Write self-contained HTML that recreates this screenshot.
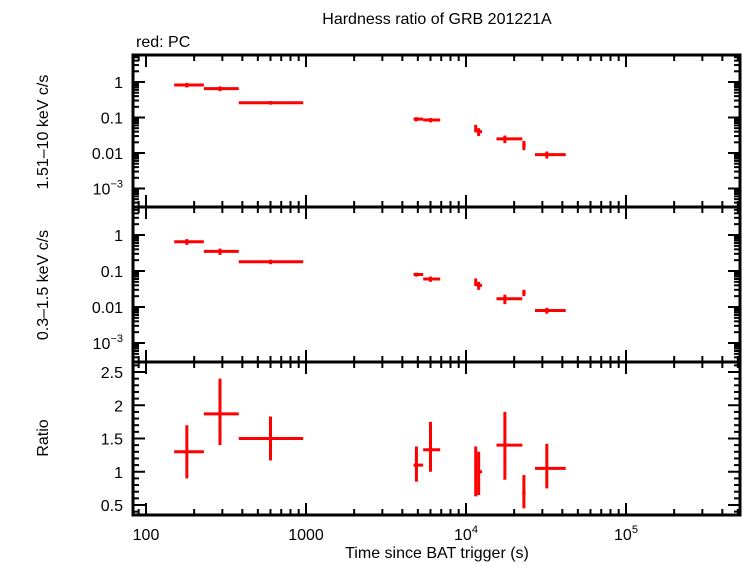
<!DOCTYPE html>
<html><head><meta charset="utf-8"><style>
html,body{margin:0;padding:0;background:#fff;}
svg text{font-family:"Liberation Sans",sans-serif;fill:#000;}
</style></head><body>
<svg id="chart" width="742" height="566" xmlns="http://www.w3.org/2000/svg">
<text x="437" y="24" font-size="16" text-anchor="middle">Hardness ratio of GRB 201221A</text>
<text x="136" y="47" font-size="16">red: PC</text>
<g id="panels"></g>
<text x="437" y="558" font-size="16" text-anchor="middle">Time since BAT trigger (s)</text>
</svg>
<script>
// Data
const times   = [180, 290, 600, 4900, 6000, 11500, 12000, 17500, 23000, 32000];
const tLo     = [150, 230, 380, 4700, 5400, 11300, 11700, 15500, 22500, 27000];
const tHi     = [230, 380, 960, 5400, 6900, 11700, 12600, 22500, 23600, 42000];
const hardRate = [0.82, 0.65, 0.26, 0.09, 0.085, 0.05, 0.04, 0.025, 0.017, 0.009];
const hardErr  = [0.12, 0.10, 0.03, 0.012, 0.012, 0.012, 0.01, 0.006, 0.005, 0.002];
const softRate = [0.65, 0.35, 0.18, 0.08, 0.06, 0.05, 0.04, 0.017, 0.025, 0.008];
const softErr  = [0.12, 0.07, 0.025, 0.01, 0.01, 0.012, 0.01, 0.005, 0.005, 0.0015];
const ratio    = [1.3, 1.87, 1.5, 1.1, 1.33, 1.0, 1.0, 1.4, 0.68, 1.05];
const ratioLo  = [0.9, 1.4, 1.17, 0.85, 1.0, 0.63, 0.65, 0.88, 0.45, 0.75];
const ratioHi  = [1.7, 2.4, 1.83, 1.38, 1.75, 1.38, 1.3, 1.9, 0.95, 1.42];
const xTickLabels = ["100", "1000", "10^4", "10^5"];
const logTickLabels = ["1", "0.1", "0.01", "10^-3"];
const ratioTicks = [0.5, 1, 1.5, 2, 2.5];

const NS = "http://www.w3.org/2000/svg";
const g = document.getElementById("panels");
const L = 133, R = 740;
const xS = t => 146 + (Math.log10(t) - 2) * 160;
function el(tag, a, parent) { const e = document.createElementNS(NS, tag); for (const k in a) e.setAttribute(k, a[k]); (parent || g).appendChild(e); return e; }
function line(x1, y1, x2, y2, c, w, name) {
  const e = el("line", {x1, y1, x2, y2, stroke: c, "stroke-width": w});
  
  
  return e;
}
function supText(x, y, s, anchor, name) {
  const t = el("text", {x, y, "font-size": 16, "text-anchor": anchor});
  
  
  if (s.indexOf("^") >= 0) {
    const [b, e] = s.split("^");
    const t1 = document.createElementNS(NS, "tspan"); t1.textContent = b; t.appendChild(t1);
    const t2 = document.createElementNS(NS, "tspan"); t2.setAttribute("font-size", "11"); t2.setAttribute("dy", "-7");
    t2.textContent = e.replace("-", "\u2212"); t.appendChild(t2);
  } else t.textContent = s;
  return t;
}
const panels = [
  {top: 55, bot: 207, y1: 82, dec: 35.5, vals: hardRate, err: hardErr, name: "hard"},
  {top: 207, bot: 362, y1: 235, dec: 36, vals: softRate, err: softErr, name: "soft"},
  {top: 362, bot: 515, name: "ratio"}
];
panels.forEach((p, pi) => {
  let yS;
  if (p.name === "ratio") yS = v => 372 + (2.5 - v) * 66.5;
  else yS = v => p.y1 - Math.log10(v) * p.dec;
  // x ticks
  for (let d = 1; d <= 5; d++) for (let m = 1; m <= 9; m++) {
    const t = Math.pow(10, d) * m, x = xS(t);
    if (x < L || x > R) continue;
    const len = m === 1 ? 12 : 6;
    line(x, p.bot, x, p.bot - len, "#000", 2, "x-tick");
    line(x, p.top, x, p.top + len, "#000", 2, "x-tick");
  }
  // y ticks
  if (p.name === "ratio") {
    for (let v = 0.4; v <= 2.61; v += 0.1) {
      const y = yS(v); if (y < p.top || y > p.bot) continue;
      const maj = Math.abs(v * 2 - Math.round(v * 2)) < 1e-6;
      line(L, y, L + (maj ? 12 : 6), y, "#000", 2, "y-tick");
      line(R, y, R - (maj ? 12 : 6), y, "#000", 2, "y-tick");
    }
    ratioTicks.forEach(v => supText(L - 10, yS(v) + 6, String(v), "end", "y-tick-label"));
  } else {
    for (let d = -4; d <= 0; d++) for (let m = 1; m <= 9; m++) {
      const v = Math.pow(10, d) * m, y = yS(v);
      if (y < p.top + 1 || y > p.bot - 1) continue;
      const len = m === 1 ? 12 : 6;
      line(L, y, L + len, y, "#000", 2, "y-tick");
      line(R, y, R - len, y, "#000", 2, "y-tick");
    }
    [1, 0.1, 0.01, 0.001].forEach((v, i) => supText(L - 10, yS(v) + 6, logTickLabels[i], "end", "y-tick-label"));
  }
  // frame
  const f = el("rect", {x: L, y: p.top, width: R - L, height: p.bot - p.top, fill: "none", stroke: "#000", "stroke-width": 3});
  
  
  // data
  times.forEach((t, i) => {
    let v, lo, hi;
    if (p.name === "ratio") { v = ratio[i]; lo = ratioLo[i]; hi = ratioHi[i]; }
    else { v = p.vals[i]; lo = v - p.err[i]; hi = v + p.err[i]; }
    const x = xS(t), y = yS(v);
    line(xS(tLo[i]), y, xS(tHi[i]), y, "#f00", 3, p.name + "-xerr-" + i);
    line(x, yS(lo), x, yS(hi), "#f00", 3, p.name + "-yerr-" + i);
  });
});
// x labels
[100, 1000, 1e4, 1e5].forEach((t, i) => supText(xS(t), 540, xTickLabels[i], "middle", "x-tick-label"));
// y axis titles
function vtitle(x, y, s, name) {
  const t = el("text", {x: 0, y: 0, "font-size": 16, "text-anchor": "middle", transform: `translate(${x},${y}) rotate(-90)`});
  t.textContent = s;
  
  
}
vtitle(48, 132, "1.51\u201310 keV c/s", "hard-y-axis-title");
vtitle(48, 285, "0.3\u20131.5 keV c/s", "soft-y-axis-title");
vtitle(48, 438, "Ratio", "ratio-y-axis-title");
</script>
</body></html>
